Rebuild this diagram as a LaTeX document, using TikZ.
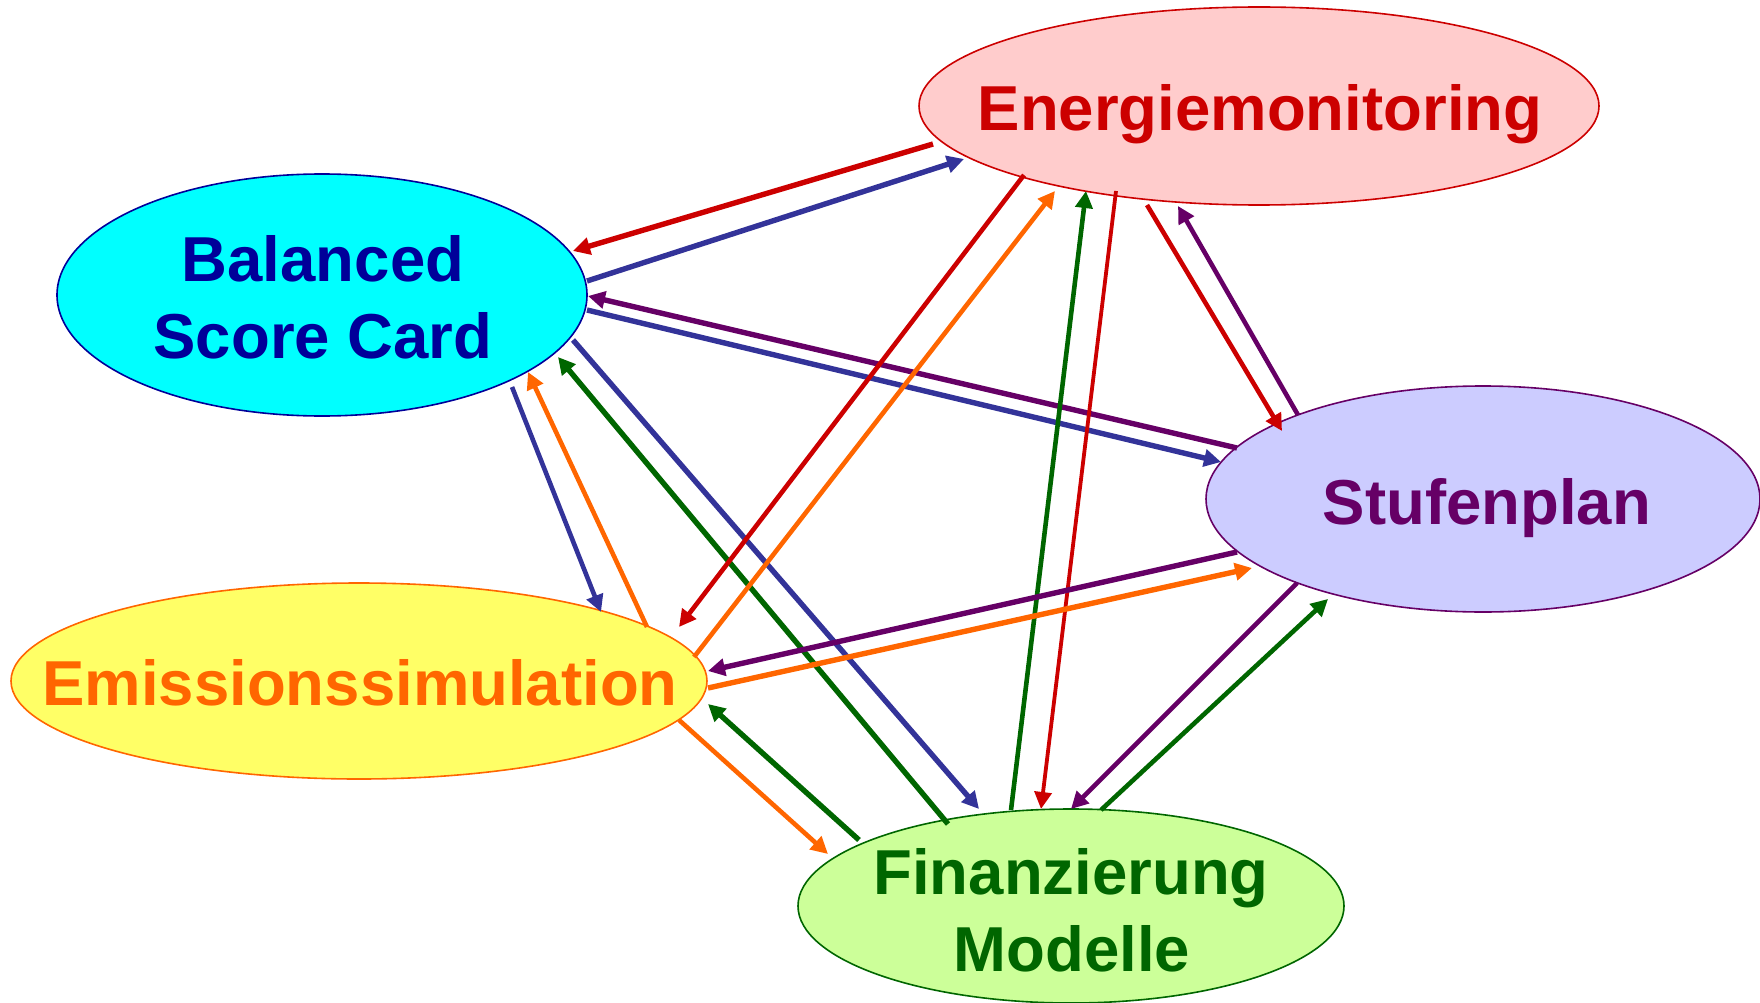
\documentclass[tikz,border=0pt]{standalone}
\usepackage{fontspec}
\setmainfont{Liberation Sans}
\usetikzlibrary{arrows.meta,shapes.geometric,calc}
\definecolor{cRed}{HTML}{CC0000}
\definecolor{cBlue}{HTML}{333399}
\definecolor{cNavy}{HTML}{000099}
\definecolor{cPurple}{HTML}{660066}
\definecolor{cOrange}{HTML}{FF6600}
\definecolor{cGreen}{HTML}{006600}
\definecolor{fPink}{HTML}{FFCCCC}
\definecolor{fCyan}{HTML}{00FFFF}
\definecolor{fLav}{HTML}{CCCCFF}
\definecolor{fYellow}{HTML}{FFFF66}
\definecolor{fLime}{HTML}{CCFF99}
\begin{document}
\begin{tikzpicture}[x=1pt,y=-1pt,
  ell/.style={ellipse, line width=1.6pt, inner sep=0pt, outer sep=0pt},
  lbl/.style={font=\bfseries\fontsize{63.5}{76}\selectfont, inner sep=0pt, anchor=base},
  con/.style={line width=4.6pt, -{Triangle[length=17pt,width=17pt]}},
  wideline/.style={line width=5.4pt},
  slimline/.style={line width=3.8pt}]
\useasboundingbox (0,0) rectangle (1760,1003);
% nodes
\node[ell, fill=fPink, draw=cRed, minimum width=680pt, minimum height=198pt] (E) at (1259,106) {};
\node[ell, fill=fCyan, draw=cNavy, minimum width=530pt, minimum height=242pt] (B) at (322,295) {};
\node[ell, fill=fLav, draw=cPurple, minimum width=554pt, minimum height=226pt] (S) at (1483,499) {};
\node[ell, fill=fYellow, draw=cOrange, minimum width=696pt, minimum height=196pt] (M) at (359,681) {};
\node[ell, fill=fLime, draw=cGreen, minimum width=546pt, minimum height=194pt] (F) at (1071,906) {};
% labels
\node[lbl, text=cRed] (Et) at (1260,131) {Energiemonitoring};
\node[lbl, text=cNavy] (Bt1) at (323,281) {Balanced};
\node[lbl, text=cNavy] (Bt2) at (323,358) {Score Card};
\node[lbl, text=cPurple] (St) at (1487,524) {Stufenplan};
\node[lbl, text=cOrange] (Mt) at (360,705) {Emissionssimulation};
\node[lbl, text=cGreen] (Ft1) at (1071,894) {Finanzierung};
\node[lbl, text=cGreen] (Ft2) at (1072,971) {Modelle};
% connectors
\draw[con, cRed, wideline] ($(E)+(-326,38)$) -- ($(B)+(251,-44)$);
\draw[con, cBlue, wideline] ($(B)+(265,-14)$) -- ($(E)+(-295,53)$);
\draw[con, cPurple, wideline] ($(S)+(-246,-51)$) -- ($(B)+(266,1)$);
\draw[con, cBlue, wideline] ($(B)+(265,15)$) -- ($(S)+(-262,-37)$);
\draw[con, cBlue] ($(B)+(190,92)$) -- ($(M)+(242,-69)$);
\draw[con, cOrange] ($(M)+(288,-54)$) -- ($(B)+(206,77)$);
\draw[con, cGreen, wideline] ($(F)+(-123,-82)$) -- ($(B)+(236,62)$);
\draw[con, cBlue, wideline] ($(B)+(251,45)$) -- ($(F)+(-92,-97)$);
\draw[con, cRed] ($(E)+(-235,69)$) -- ($(M)+(320,-54)$);
\draw[con, cOrange] ($(M)+(335,-24)$) -- ($(E)+(-204,85)$);
\draw[con, cGreen] ($(F)+(-60,-96)$) -- ($(E)+(-173,85)$);
\draw[con, cRed, slimline] ($(E)+(-143,85)$) -- ($(F)+(-30,-97)$);
\draw[con, cRed] ($(E)+(-112,99)$) -- ($(S)+(-201,-68)$);
\draw[con, cPurple] ($(S)+(-185,-84)$) -- ($(E)+(-81,100)$);
\draw[con, cPurple, wideline] ($(S)+(-246,53)$) -- ($(M)+(349,-10)$);
\draw[con, cOrange, wideline] ($(M)+(349,7)$) -- ($(S)+(-231,69)$);
\draw[con, cPurple] ($(S)+(-186,84)$) -- ($(F)+(0,-97)$);
\draw[con, cGreen] ($(F)+(30,-96)$) -- ($(S)+(-155,100)$);
\draw[con, cOrange] ($(M)+(320,39)$) -- ($(F)+(-243,-52)$);
\draw[con, cGreen, wideline] ($(F)+(-212,-66)$) -- ($(M)+(349,23)$);
\end{tikzpicture}
\end{document}
